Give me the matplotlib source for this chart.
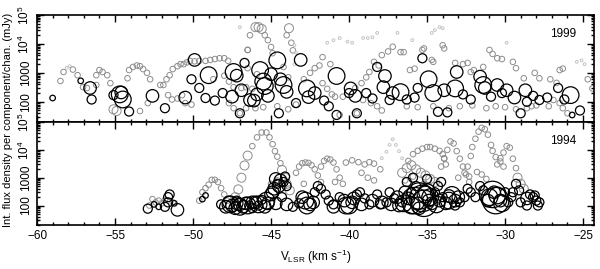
import matplotlib
matplotlib.use("Agg")
import matplotlib.pyplot as plt
from matplotlib.ticker import FixedLocator, FixedFormatter, MultipleLocator, LogLocator, NullFormatter

plt.rcParams['font.family'] = ['Liberation Sans', 'DejaVu Sans']
plt.rcParams['mathtext.fontset'] = 'custom'
plt.rcParams['mathtext.rm'] = 'Liberation Sans'
plt.rcParams['mathtext.it'] = 'Liberation Sans:italic'

# ---- 1999 epoch: grey (channel) circles ----
top_grey_v = [-58.5, -58.3, -58.1, -57.9, -57.7, -57.4, -57.05, -56.8, -56.2, -56.2, -56.0, -55.8, -55.5, -55.3,
              -54.2, -54.1, -53.85, -53.6, -53.4, -53.2, -52.95, -52.75, -52.9, -53.4, -52.1, -51.9, -51.7, -51.5,
              -51.3, -51.0, -50.8, -50.6, -50.4, -50.2, -51.6, -51.35, -51.0, -50.7, -50.5, -50.1, -55.1, -54.9,
              -49.2, -48.9, -48.6, -48.3, -48.0, -47.75, -47.0, -46.35, -46.0, -45.8, -45.6, -45.4, -45.2, -45.0,
              -44.9, -46.5, -44.0, -43.85, -43.7, -43.6, -41.4, -41.0, -40.6, -40.1, -39.8, -39.1, -38.8, -38.5,
              -38.2, -35.95, -34.7, -34.5, -34.2, -34.0, -36.7, -36.5, -36.1, -35.8, -35.3, -35.2, -34.7, -34.6,
              -34.0, -33.9, -33.2, -32.7, -32.4, -32.2, -32.0, -31.4, -31.0, -30.8, -30.5, -30.2, -29.9, -29.5,
              -29.3, -28.8, -28.1, -27.8, -27.1, -26.7, -26.5, -26.3, -25.4, -25.1, -24.9, -24.7, -24.4, -26.9,
              -26.5, -26.3, -26.0, -27.2, -28.0, -28.3, -28.6, -29.3, -30.0, -30.6, -31.2, -32.1, -32.9, -33.6,
              -34.6, -35.6, -36.3, -48.7, -48.0, -47.7, -47.4, -46.9, -46.6, -46.2, -47.7, -47.4, -47.0, -46.6,
              -46.0, -45.5, -44.6, -43.9, -43.4, -42.9, -42.5, -42.2, -41.9, -41.7, -41.2, -41.7, -41.4, -41.1,
              -40.9, -40.4, -39.6, -39.2, -38.9, -38.7, -38.4, -38.1, -37.9, -37.5, -37.2, -36.9, -39.1, -38.6,
              -38.2, -37.9, -39.5, -40.6, -46.5, -46.5, -45.9, -43.5, -43.4, -43.5, -44.2, -43.9, -49.6, -49.9]
top_grey_f = [525, 1070, 1500, 1700, 1300, 830, 320, 300, 380, 830, 1250, 1070, 830, 440,
              650, 1250, 1600, 1800, 1700, 1350, 1000, 600, 90, 48, 380, 380, 600, 830,
              1350, 1700, 2000, 2000, 2300, 2600, 170, 120, 130, 170, 90, 80, 55, 48,
              2600, 2800, 3000, 3200, 3200, 2600, 38000, 20000, 38000, 38000, 33000, 20000, 13500, 7800,
              4800, 6200, 20000, 35000, 11000, 6000, 11000, 13500, 16000, 12000, 11000, 16000, 16000, 17000,
              24000, 13500, 24000, 30000, 38000, 35000, 5200, 5200, 1250, 1400, 6200, 7000, 2800, 2400,
              9000, 7000, 2200, 2000, 2200, 1070, 1250, 1600, 6200, 4500, 3200, 3000, 11000, 2400,
              1450, 650, 1000, 650, 600, 450, 1250, 1400, 2400, 2700, 2000, 600, 290, 115,
              90, 60, 40, 70, 75, 70, 60, 55, 65, 70, 60, 75, 70, 60,
              70, 65, 70, 600, 800, 500, 320, 300, 320, 280, 90, 60, 40, 60,
              60, 65, 70, 55, 80, 600, 1000, 1450, 1800, 3500, 2000, 440, 280, 180,
              150, 150, 300, 440, 700, 1070, 2400, 1800, 4100, 5500, 8000, 24000, 115, 90,
              70, 50, 40, 35, 6200, 1450, 900, 9000, 5000, 2000, 1600, 700, 2600, 2500]
top_grey_s = [2, 2, 1, 1, 2, 2, 2, 2, 2, 2, 2, 2, 2, 2,
              2, 2, 2, 2, 2, 2, 2, 2, 2, 2, 2, 2, 2, 2,
              2, 2, 2, 2, 2, 2, 2, 2, 2, 2, 2, 2, 3, 3,
              2, 2, 2, 2, 2, 2, 1, 2, 3, 3, 3, 2, 2, 2,
              2, 2, 2, 3, 2, 2, 1, 1, 1, 1, 1, 1, 1, 1,
              1, 1, 1, 1, 1, 1, 2, 2, 2, 2, 2, 2, 2, 2,
              2, 2, 2, 2, 2, 2, 2, 2, 2, 2, 2, 2, 1, 2,
              2, 2, 2, 2, 2, 2, 2, 2, 1, 1, 1, 2, 2, 2,
              2, 2, 2, 2, 2, 2, 2, 2, 2, 2, 2, 2, 2, 2,
              2, 2, 2, 2, 2, 2, 2, 2, 2, 2, 2, 2, 2, 2,
              2, 2, 2, 2, 2, 2, 2, 2, 2, 2, 2, 2, 2, 2,
              2, 2, 2, 2, 2, 2, 2, 2, 2, 2, 2, 1, 2, 2,
              2, 2, 2, 2, 2, 2, 2, 1, 1, 1, 2, 2, 2, 2]

# ---- 1999 epoch: black (component) circles ----
top_black_v = [-59.0, -57.2, -56.6, -56.5, -55.1, -54.7, -54.5, -54.6, -54.1, -52.6, -51.8, -50.5, -50.1, -49.9,
               -49.6, -49.2, -49.0, -48.1, -47.5, -47.4, -47.2, -46.7, -46.35, -46.1, -45.7, -45.5, -45.4, -45.0,
               -44.6, -44.2, -44.4, -43.1, -42.7, -42.6, -42.2, -40.8, -39.9, -40.0, -39.5, -40.8, -38.2, -37.7,
               -37.8, -37.2, -37.4, -36.7, -35.8, -35.3, -34.9, -34.6, -34.3, -33.9, -33.7, -33.2, -33.1, -31.6,
               -31.4, -31.3, -30.5, -29.9, -29.4, -28.7, -28.6, -27.8, -27.3, -25.8, -25.2, -25.7, -29.0, -44.5,
               -47.0, -48.6, -46.9, -45.9, -45.2, -44.0, -43.4, -41.6, -41.3, -39.6, -38.9, -38.5, -36.3, -35.6,
               -32.7, -32.2, -30.9, -30.2, -28.2, -26.6, -26.2]
top_black_f = [135, 530, 300, 120, 170, 180, 120, 210, 46, 160, 60, 140, 600, 2800,
               300, 135, 830, 200, 150, 1070, 800, 2200, 115, 110, 1250, 500, 350, 900,
               2700, 380, 600, 2800, 290, 145, 200, 780, 290, 200, 40, 35, 1600, 780,
               320, 200, 115, 215, 140, 3200, 600, 200, 45, 250, 43, 290, 1070, 740,
               380, 300, 380, 250, 140, 250, 100, 115, 140, 170, 50, 35, 40, 40,
               40, 110, 250, 180, 160, 220, 90, 110, 70, 160, 200, 130, 120, 300,
               180, 120, 150, 200, 160, 300, 120]
top_black_s = [2, 2, 4, 3, 3, 5, 5, 4, 3, 4, 3, 4, 3, 4,
               3, 3, 5, 3, 4, 5, 4, 3, 4, 4, 5, 5, 5, 4,
               5, 5, 4, 4, 5, 4, 4, 5, 4, 3, 3, 3, 3, 4,
               4, 4, 3, 5, 3, 3, 5, 5, 3, 4, 3, 5, 4, 4,
               5, 4, 4, 4, 4, 4, 3, 3, 3, 5, 3, 2, 3, 3,
               3, 3, 4, 4, 4, 4, 3, 3, 3, 4, 3, 3, 3, 3,
               3, 3, 3, 3, 3, 3, 3]

# ---- 1994 epoch: grey (channel) circles ----
bot_grey_v = [-52.6, -52.4, -52.2, -52.0, -51.8, -51.3, -52.8,
              -49.6, -49.4, -49.2, -49.0, -48.8, -48.6, -48.4, -48.2, -48.0, -47.8,
              -47.3, -47.1, -46.9, -46.7, -46.5, -46.2, -45.9, -45.6, -45.3, -45.1, -44.9, -44.75, -44.6, -44.4,
              -44.3, -44.1, -44.0, -43.8,
              -43.4, -43.2, -43.0, -42.8, -42.6, -42.4, -42.2, -42.0, -41.8,
              -41.8, -41.6, -41.4, -41.2, -41.0, -40.8, -40.6, -40.4,
              -40.2, -39.8, -39.4, -39.0, -38.7, -38.4, -38.0,
              -37.9, -37.6, -37.4, -37.2, -37.0, -36.8, -36.6,
              -36.2, -35.9, -35.6, -35.3, -35.0, -34.8, -34.5, -34.2, -34.0, -33.9, -33.8,
              -34.1, -33.9, -33.7, -33.5, -33.3, -33.1, -32.9, -32.7, -32.5, -32.3,
              -32.4, -32.2, -32.1, -31.9, -31.7, -31.5, -31.3, -31.1, -30.9, -30.8, -30.6, -30.3, -30.1,
              -30.5, -30.3, -30.1, -29.9, -29.7, -29.5, -29.3, -29.2, -29.0, -28.8,
              -36.6, -36.3, -36.0, -35.7, -35.4, -35.1, -34.8, -34.5, -36.4, -35.9, -35.2,
              -33.0, -32.6, -32.3, -31.8, -31.5, -31.2, -39.2, -38.8, -38.4, -40.9, -42.9, -44.6, -45.0]
bot_grey_f = [170, 130, 150, 120, 160, 130, 100,
              150, 300, 420, 560, 840, 840, 700, 420, 250, 150,
              200, 380, 1000, 2750, 6200, 13600, 28000, 42000, 42000, 28000, 16000, 9000, 5700, 3300,
              1900, 1000, 600, 350,
              1500, 2500, 3300, 3500, 3400, 2800, 2000, 1200, 700,
              2500, 4000, 4800, 4500, 3500, 2000, 1000, 600,
              3500, 4200, 3600, 3000, 3600, 3200, 2000,
              5000, 8500, 15000, 24000, 15000, 9000, 5000,
              4000, 7000, 9200, 11000, 12600, 12600, 11000, 9200, 7000, 4800, 3000,
              2500, 5000, 10000, 20000, 17000, 9000, 4800, 2500, 1300, 700,
              2500, 6000, 12600, 25000, 45000, 62000, 55000, 35000, 15000, 9200, 5500, 3800, 2500,
              3000, 5000, 8000, 13600, 12000, 4800, 2200, 1000, 600, 400,
              1500, 2200, 2800, 2000, 1500, 1200, 900, 700, 800, 1100, 600,
              1000, 1500, 1100, 1600, 1300, 900, 1500, 1000, 800, 700, 600, 800, 600]
bot_grey_s = [2, 2, 2, 2, 2, 2, 2,
              2, 2, 2, 2, 2, 2, 2, 2, 2, 2,
              3, 3, 3, 3, 3, 2, 2, 2, 2, 2, 2, 2, 2, 2,
              3, 3, 3, 3,
              2, 2, 2, 2, 2, 2, 2, 2, 2,
              2, 2, 2, 2, 2, 2, 2, 2,
              2, 2, 2, 2, 2, 2, 2,
              1, 1, 1, 1, 1, 1, 1,
              2, 2, 2, 2, 2, 2, 2, 2, 2, 2, 2,
              2, 2, 2, 2, 2, 2, 2, 2, 2, 2,
              2, 2, 2, 2, 2, 2, 2, 2, 2, 2, 2, 2, 2,
              2, 2, 2, 2, 2, 2, 2, 3, 3, 3,
              3, 3, 3, 3, 3, 3, 3, 3, 2, 2, 2,
              2, 2, 2, 2, 2, 2, 2, 2, 2, 2, 2, 2, 2]

# ---- 1994 epoch: black (component) circles ----
bot_black_v = [-52.9, -52.5, -52.2, -51.6, -51.5, -51.6, -51.2, -51.0, -51.8,
               -49.4, -49.2, -48.2, -47.9, -47.7, -47.5, -47.3, -47.2, -47.0, -46.8, -46.6, -46.4, -46.2, -46.0,
               -45.8, -45.6, -45.4, -45.2, -45.0, -44.8, -44.6, -44.4, -44.2, -44.0, -44.3, -44.0, -43.6, -43.2,
               -43.0, -42.8, -42.5, -42.2, -42.0, -41.8, -41.5, -41.3, -41.0, -40.6, -40.3, -40.0, -39.8, -39.5,
               -39.3, -39.0, -38.7, -38.5, -38.2, -38.0, -37.6, -37.4, -37.1, -36.8, -36.6, -36.2, -36.0, -35.7,
               -35.5, -35.3, -35.1, -34.9, -34.7, -35.6, -34.5, -34.3, -34.1, -34.0, -33.6, -33.4, -33.2, -33.2,
               -32.9, -32.6, -32.4, -32.2, -31.9, -31.6, -31.4, -31.1, -30.8, -30.5, -30.3, -30.0, -29.8, -29.6,
               -29.3, -29.1, -28.6, -28.4, -28.2, -28.0, -27.8,
               -36.5, -36.0, -35.8, -35.2, -34.8, -34.4, -35.0, -35.5, -34.2,
               -31.0, -30.6, -30.2, -30.7, -33.6, -33.0, -33.8,
               -47.6, -47.0, -46.5, -45.8, -45.3, -44.7, -46.2, -47.2,
               -44.7, -44.5, -44.1, -44.9, -42.7, -42.3, -41.0, -40.2, -39.7, -39.2,
               -37.9, -37.3, -36.9, -36.4, -36.3, -35.9, -35.0,
               -29.5, -29.0, -28.6, -28.1, -27.9]
bot_black_f = [77, 110, 90, 200, 250, 130, 120, 70, 90,
               170, 230, 110, 90, 130, 100, 80, 150, 110, 90, 120, 100, 80, 130,
               100, 160, 90, 120, 250, 400, 600, 800, 700, 500, 200, 110, 90, 120,
               200, 150, 110, 300, 500, 400, 250, 150, 110, 200, 150, 100, 130, 250,
               300, 180, 110, 150, 250, 110, 130, 300, 180, 100, 130, 180, 300, 500,
               220, 180, 250, 150, 120, 120, 300, 500, 700, 200, 220, 240, 150, 100,
               130, 200, 400, 300, 200, 500, 350, 150, 250, 230, 150, 300, 130, 200,
               600, 350, 100, 250, 200, 150, 130,
               120, 100, 150, 120, 200, 110, 300, 80, 150,
               200, 150, 120, 300, 150, 200, 120,
               110, 90, 100, 110, 150, 120, 130, 120,
               900, 500, 1100, 300, 100, 130, 90, 100, 180, 110,
               130, 110, 200, 300, 700, 1000, 900,
               300, 130, 180, 230, 100]
bot_black_s = [3, 2, 2, 3, 3, 3, 2, 4, 3,
               2, 2, 3, 4, 4, 4, 4, 3, 4, 4, 4, 3, 3, 4,
               3, 3, 4, 4, 4, 4, 3, 4, 3, 3, 3, 4, 3, 3,
               4, 5, 4, 3, 3, 3, 3, 3, 3, 3, 4, 5, 4, 3,
               3, 3, 3, 4, 3, 3, 3, 3, 3, 4, 3, 4, 3, 3,
               6, 6, 5, 4, 4, 4, 3, 3, 3, 3, 4, 5, 4, 3,
               3, 3, 3, 3, 3, 3, 3, 4, 6, 5, 4, 3, 3, 3,
               3, 3, 3, 3, 3, 3, 3,
               5, 5, 6, 6, 5, 5, 5, 4, 4,
               5, 6, 5, 4, 5, 4, 4,
               5, 5, 5, 5, 5, 4, 4, 4,
               4, 4, 3, 4, 5, 4, 4, 5, 4, 4,
               4, 4, 4, 4, 3, 3, 3,
               3, 3, 4, 3, 3]

# marker diameter (points) for each size class
diam = {1: 2.0, 2: 4.0, 3: 6.5, 4: 9.0, 5: 12.0, 6: 19.0}


def draw(ax, gv, gf, gs, bv, bf, bs, year):
    gsz = [diam[s] ** 2 for s in gs]
    gcol = ['#c4c4c4' if s == 1 else '#8c8c8c' for s in gs]
    ax.scatter(gv, gf, s=gsz, facecolors='none', edgecolors=gcol, linewidths=0.7, zorder=2)
    bsz = [diam[s] ** 2 for s in bs]
    ax.scatter(bv, bf, s=bsz, facecolors='none', edgecolors='black', linewidths=0.9, zorder=3)
    ax.set_yscale('log')
    ax.set_ylim(20, 1e5)
    ax.set_xlim(-60, -24.3)
    ax.yaxis.set_major_locator(FixedLocator([100, 1000, 1e4, 1e5]))
    ax.yaxis.set_major_formatter(FixedFormatter(['100', '1000', '10$^4$', '10$^5$']))
    ax.yaxis.set_minor_locator(LogLocator(base=10, subs=range(2, 10)))
    ax.yaxis.set_minor_formatter(NullFormatter())
    ax.xaxis.set_major_locator(MultipleLocator(5))
    ax.xaxis.set_minor_locator(MultipleLocator(1))
    ax.tick_params(which='both', direction='in', top=True, right=True, width=1.0, labelsize=8.5)
    ax.tick_params(which='major', length=5)
    ax.tick_params(which='minor', length=2.5)
    for lbl in ax.get_yticklabels():
        lbl.set_rotation(90)
        lbl.set_va('center')
    for sp in ax.spines.values():
        sp.set_linewidth(1.2)
    ax.text(0.945, 0.82, year, transform=ax.transAxes, ha='center', va='center', fontsize=8.5)


fig = plt.figure(figsize=(6.0, 2.69), dpi=100)
ax1 = fig.add_axes([0.0617, 0.5465, 0.9283, 0.3977])
ax2 = fig.add_axes([0.0617, 0.1636, 0.9283, 0.3829], sharex=ax1)

draw(ax1, top_grey_v, top_grey_f, top_grey_s, top_black_v, top_black_f, top_black_s, '1999')
draw(ax2, bot_grey_v, bot_grey_f, bot_grey_s, bot_black_v, bot_black_f, bot_black_s, '1994')
ax1.tick_params(labelbottom=False)

ax2.set_xlabel('V$_{\\rm LSR}$ (km s$^{-1}$)', fontsize=8.5, labelpad=4)
fig.text(0.014, 0.555, 'Int. flux density per component/chan. (mJy)', rotation=90,
         ha='center', va='center', fontsize=8)

fig.savefig('out.png', dpi=100)
